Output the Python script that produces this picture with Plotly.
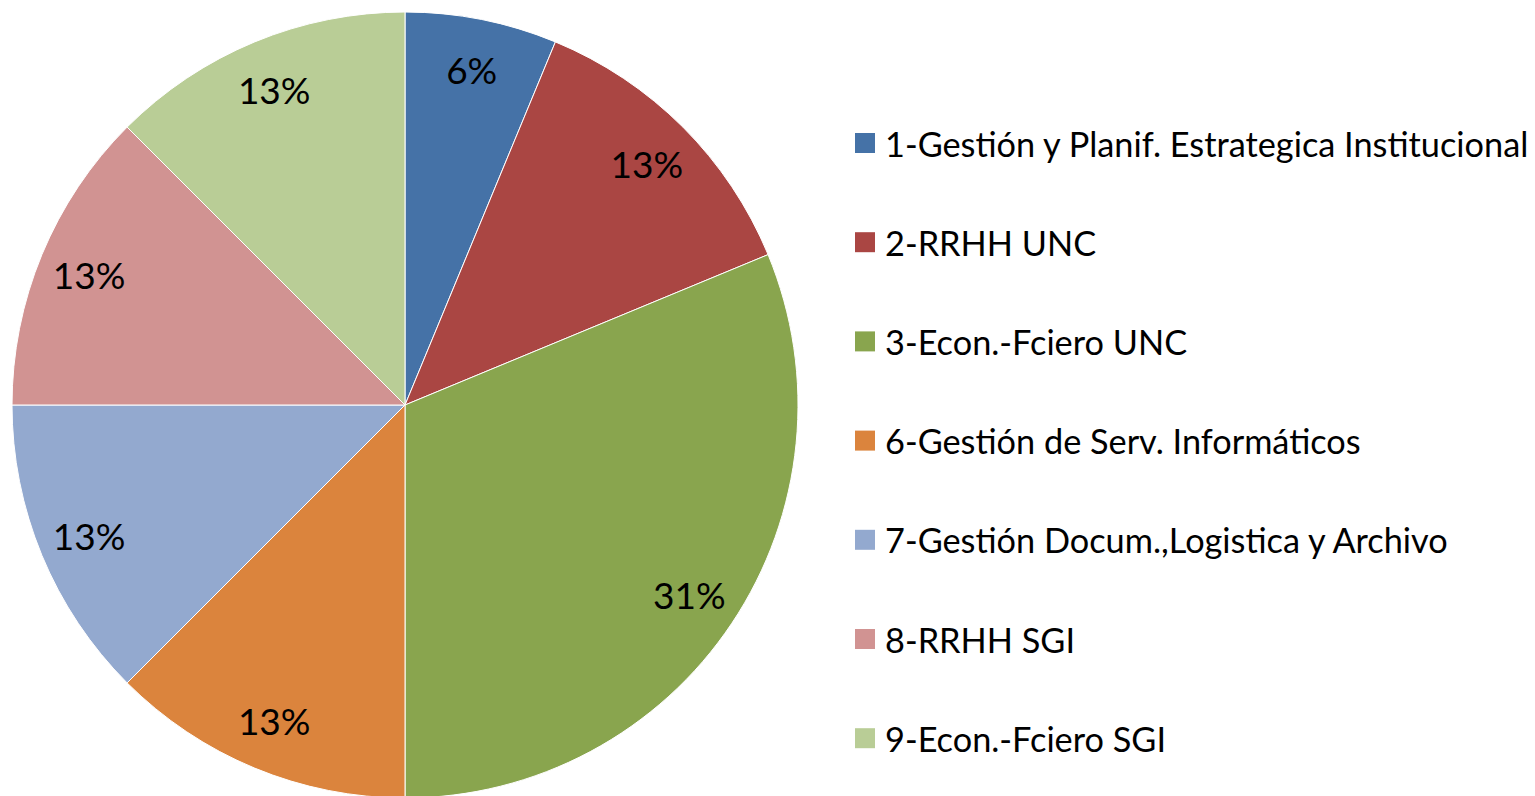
import plotly.graph_objects as go

labels = ['1-Gestión y Planif. Estrategica Institucional', '2-RRHH UNC', '3-Econ.-Fciero UNC',
          '6-Gestión de Serv. Informáticos', '7-Gestión Docum.,Logistica y Archivo',
          '8-RRHH SGI', '9-Econ.-Fciero SGI']
values = [1, 2, 5, 2, 2, 2, 2]
colors = ['#4572A7', '#AA4643', '#89A54E', '#DB843D', '#93A9CF', '#D19392', '#B9CD96']

W, H = 1535, 796
# the html page adds an 8px body margin, so positions are given 8px up/left
dom = dict(x=[4 / W, 790 / W], y=[6 / H, 1 - 4 / H])

fig = go.Figure()
fig.add_trace(go.Pie(
    labels=labels, values=values, sort=False, direction='clockwise', rotation=0,
    marker=dict(colors=colors, line=dict(color='white', width=1)),
    textinfo='none', domain=dom, showlegend=False, hoverinfo='label+percent'
))
# transparent ring on top, only to carry the percentages out near the rim
fig.add_trace(go.Pie(
    labels=labels, values=values, sort=False, direction='clockwise', rotation=0, hole=0.74,
    marker=dict(colors=['rgba(0,0,0,0)'] * len(values), line=dict(width=0)),
    texttemplate='%{percent:.0%}', textposition='inside', insidetextorientation='horizontal',
    textfont=dict(family='Lato', size=37, color='black'),
    domain=dom, showlegend=False, hoverinfo='skip'
))

# legend drawn by hand to match the wide spacing
top, step = 135, 99.2
for i, (lab, col) in enumerate(zip(labels, colors)):
    yc = top + i * step
    fig.add_shape(type='rect', xref='paper', yref='paper',
                  x0=847 / W, x1=867 / W, y0=1 - (yc + 10) / H, y1=1 - (yc - 10) / H,
                  fillcolor=col, line=dict(width=0))
    fig.add_annotation(x=875 / W, y=1 - yc / H, xref='paper', yref='paper',
                       text=lab, showarrow=False, xanchor='left', yanchor='middle',
                       font=dict(family='Lato', size=34.3, color='black'))

fig.update_layout(width=W, height=H, margin=dict(l=0, r=0, t=0, b=0),
                  paper_bgcolor='white', plot_bgcolor='white')

fig.write_html('out.html')
